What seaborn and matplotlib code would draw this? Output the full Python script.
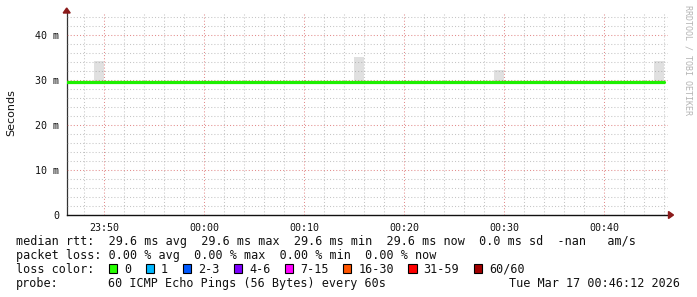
import matplotlib
matplotlib.use("Agg")
import matplotlib.pyplot as plt
from matplotlib.patches import Polygon, Rectangle
from matplotlib.ticker import MultipleLocator
import numpy as np
import pandas as pd
import seaborn as sns

# ---------------- data ----------------
median_times = ["23:46", "23:47", "23:48", "23:49", "23:50", "23:51", "23:52", "23:53", "23:54", "23:55",
                "23:56", "23:57", "23:58", "23:59", "00:00", "00:01", "00:02", "00:03", "00:04", "00:05",
                "00:06", "00:07", "00:08", "00:09", "00:10", "00:11", "00:12", "00:13", "00:14", "00:15",
                "00:16", "00:17", "00:18", "00:19", "00:20", "00:21", "00:22", "00:23", "00:24", "00:25",
                "00:26", "00:27", "00:28", "00:29", "00:30", "00:31", "00:32", "00:33", "00:34", "00:35",
                "00:36", "00:37", "00:38", "00:39", "00:40", "00:41", "00:42", "00:43", "00:44", "00:45",
                "00:46"]
median_rtt_ms = [29.6, 29.6, 29.6, 29.6, 29.6, 29.6, 29.6, 29.6, 29.6, 29.6,
                 29.6, 29.6, 29.6, 29.6, 29.6, 29.6, 29.6, 29.6, 29.6, 29.6,
                 29.6, 29.6, 29.6, 29.6, 29.6, 29.6, 29.6, 29.6, 29.6, 29.6,
                 29.6, 29.6, 29.6, 29.6, 29.6, 29.6, 29.6, 29.6, 29.6, 29.6,
                 29.6, 29.6, 29.6, 29.6, 29.6, 29.6, 29.6, 29.6, 29.6, 29.6,
                 29.6, 29.6, 29.6, 29.6, 29.6, 29.6, 29.6, 29.6, 29.6, 29.6,
                 29.6]
smoke_times = ["23:50", "00:16", "00:30", "00:46"]
smoke_low_ms = [29.6, 29.6, 29.6, 29.6]
smoke_high_ms = [34.2, 35.2, 32.2, 34.4]

x_tick_labels = ["23:50", "00:00", "00:10", "00:20", "00:30", "00:40"]
y_tick_values = [0, 10, 20, 30, 40]
y_tick_labels = ["0", "10 m", "20 m", "30 m", "40 m"]

stat_avg, stat_max, stat_min, stat_now, stat_sd = 29.6, 29.6, 29.6, 29.6, 0.0
loss_avg, loss_max, loss_min, loss_now = 0.00, 0.00, 0.00, 0.00
loss_labels = ["0", "1", "2-3", "4-6", "7-15", "16-30", "31-59", "60/60"]
loss_colors = ["#26ff00", "#00b8ff", "#0059ff", "#7e00ff", "#ff00ff", "#ff5500", "#ff0000", "#a10000"]
probe_text = "60 ICMP Echo Pings (56 Bytes) every 60s"
date_text = "Tue Mar 17 00:46:12 2026"


def to_min(t):
    h, m = t.split(":")
    v = int(h) * 60 + int(m)
    return v - 24 * 60 if int(h) >= 12 else v


# ---------------- figure ----------------
sns.set_theme(style="white")
plt.rcParams["font.family"] = ["DejaVu Sans"]
W, H = 697, 297
fig = plt.figure(figsize=(W / 100, H / 100), dpi=100)
fig.patch.set_facecolor("white")


def fx(x):
    return x / W


def fy(y):
    return 1 - y / H


ax = fig.add_axes([fx(67), fy(215), (668 - 67) / W, (215 - 12) / H])
ax.set_facecolor("white")

# smoke
sx = np.array([to_min(t) for t in smoke_times])
ax.bar(sx - 0.5, np.array(smoke_high_ms) - np.array(smoke_low_ms), bottom=smoke_low_ms,
       width=1.0, color="#e0e0e0", linewidth=0, zorder=1)

# median line
df = pd.DataFrame({"t": [to_min(t) for t in median_times], "rtt": median_rtt_ms})
sns.lineplot(data=df, x="t", y="rtt", ax=ax, color="#1ef000", linewidth=2.3,
             drawstyle="steps-pre", zorder=5)

ax.set_xlim(-13.73, 46.37)
ax.set_ylim(0, 45.2)

ax.xaxis.set_minor_locator(MultipleLocator(2))
ax.set_xticks([to_min(t) for t in x_tick_labels])
ax.set_xticklabels(x_tick_labels)
ax.set_yticks(y_tick_values)
ax.set_yticklabels(y_tick_labels)
ax.yaxis.set_minor_locator(MultipleLocator(2))

ax.grid(True, which="minor", color="#8c8c8c", alpha=0.5, linestyle=(0, (1, 2)), linewidth=0.75, zorder=2)
ax.grid(True, which="major", color="#d04040", alpha=0.6, linestyle=(0, (1, 2)), linewidth=0.75, zorder=2)
ax.set_axisbelow(False)

ax.tick_params(axis="both", which="major", direction="out", length=2.5, width=0.6, color="#444444",
               labelsize=7.2, pad=3.2)
ax.tick_params(axis="both", which="minor", direction="out", length=1.5, width=0.5, color="#666666")
for lab in ax.get_xticklabels() + ax.get_yticklabels():
    lab.set_family("DejaVu Sans Mono")
    lab.set_color("#111111")

for s in ["top", "right"]:
    ax.spines[s].set_visible(False)
ax.spines["left"].set_color("#333333")
ax.spines["bottom"].set_color("#111111")
ax.spines["left"].set_linewidth(0.9)
ax.spines["bottom"].set_linewidth(1.0)
ax.set_xlabel("")
ax.set_ylabel("")

# arrows
arrow_c = "#8b1a1a"
fig.patches.append(Polygon([(fx(66.7), fy(8)), (fx(63.2), fy(13)), (fx(70.2), fy(13))],
                           closed=True, transform=fig.transFigure, color=arrow_c, zorder=10))
fig.patches.append(Polygon([(fx(673.5), fy(215)), (fx(668.5), fy(211.5)), (fx(668.5), fy(218.5))],
                           closed=True, transform=fig.transFigure, color=arrow_c, zorder=10))

# labels
fig.text(fx(11.7), fy(113), "Seconds", rotation=90, ha="center", va="center", fontsize=8,
         family="DejaVu Sans", color="#111111")
fig.text(fx(687.7), fy(60), "RRDTOOL / TOBI OETIKER", rotation=270, ha="center", va="center",
         fontsize=6, family="DejaVu Sans Mono", color="#b4b4b4")

mono = dict(family="DejaVu Sans Mono", fontsize=8.5, color="#111111", va="baseline", ha="left")
row1 = (f"median rtt:  {stat_avg:.1f} ms avg  {stat_max:.1f} ms max  {stat_min:.1f} ms min  "
        f"{stat_now:.1f} ms now  {stat_sd:.1f} ms sd  -nan   am/s")
row2 = (f"packet loss: {loss_avg:.2f} % avg  {loss_max:.2f} % max  {loss_min:.2f} % min  "
        f"{loss_now:.2f} % now")
fig.text(fx(16), fy(245), row1, **mono)
fig.text(fx(16), fy(259), row2, **mono)
fig.text(fx(16), fy(273), "loss color:", **mono)
fig.text(fx(16), fy(287), "probe:", **mono)
fig.text(fx(16 + 13 * 7.1), fy(287), probe_text, **mono)
fig.text(fx(680), fy(287), date_text, **{**mono, "ha": "right"})

cx = 108.7
for lab, col in zip(loss_labels, loss_colors):
    fig.patches.append(Rectangle((fx(cx), fy(272.5)), 8.5 / W, 8.5 / H, transform=fig.transFigure,
                                 facecolor=col, edgecolor="black", linewidth=0.8))
    lx = cx + 15.3
    fig.text(fx(lx), fy(273), lab, **mono)
    cx = lx + len(lab) * 7.1 + 14.5

fig.savefig("out.png", dpi=100, facecolor="white")
